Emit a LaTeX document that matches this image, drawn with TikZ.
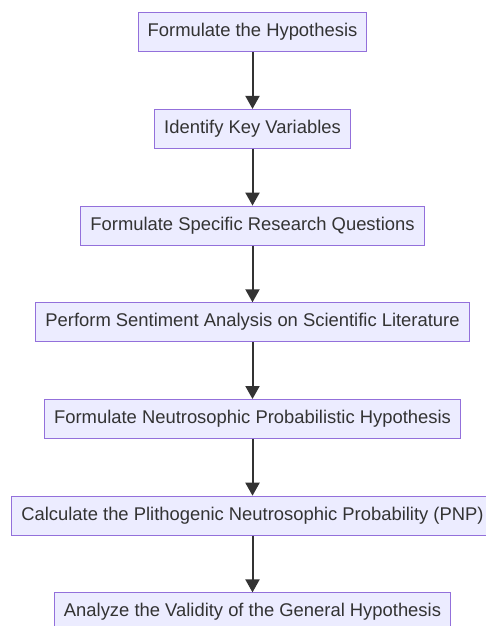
\documentclass[tikz,border=0pt]{standalone}
\usepackage{fontspec}
\setmainfont{Liberation Sans}
\usetikzlibrary{matrix,arrows.meta}
\definecolor{boxfill}{HTML}{ECECFF}
\definecolor{boxline}{HTML}{9370DB}
\definecolor{darkline}{HTML}{333333}

\begin{document}
\begin{tikzpicture}[x=1pt,y=1pt,
  stepbox/.style={draw=boxline,fill=boxfill,line width=1pt,text=darkline,
    font=\fontsize{18.4}{22}\selectfont,text height=13pt,text depth=4pt,
    inner xsep=9.5pt,inner ysep=0pt,minimum height=39pt},
  flow/.style={draw=darkline,line width=2pt,-{Triangle[length=13pt,width=14pt]}}]
\useasboundingbox (0,0) rectangle (485,-626);
\matrix(m)[matrix of nodes,nodes={stepbox},row sep=56.7pt] at (252.5,-322.3){
    Formulate the Hypothesis \\
    Identify Key Variables \\
    Formulate Specific Research Questions \\
    Perform Sentiment Analysis on Scientific Literature \\
    Formulate Neutrosophic Probabilistic Hypothesis \\
    Calculate the Plithogenic Neutrosophic Probability (PNP) \\
    Analyze the Validity of the General Hypothesis \\
};
\draw[every edge/.style={flow}]
(m-1-1)edge(m-2-1)
(m-2-1)edge(m-3-1)
(m-3-1)edge(m-4-1)
(m-4-1)edge(m-5-1)
(m-5-1)edge(m-6-1)
(m-6-1)edge(m-7-1)
;

\end{tikzpicture}
\end{document}
